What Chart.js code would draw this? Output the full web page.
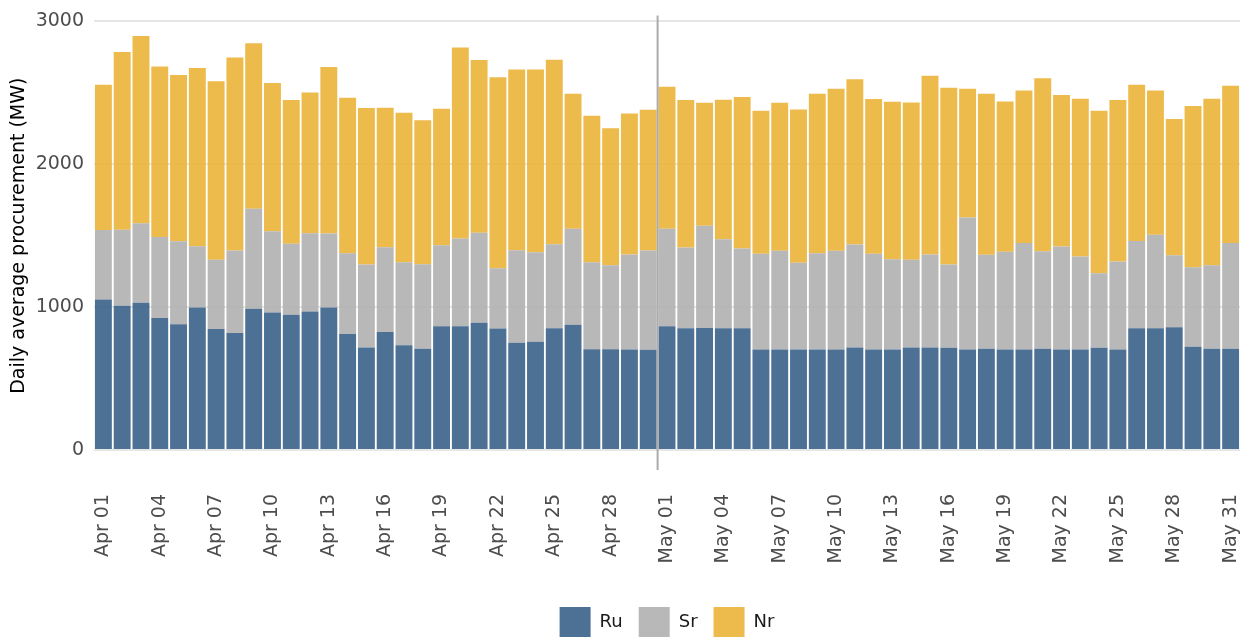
<!DOCTYPE html>
<html>
<head>
<meta charset="utf-8">
<script src="https://cdn.jsdelivr.net/npm/chart.js@4/dist/chart.umd.min.js"></script>
<style>
  html, body { margin: 0; padding: 0; background: #fff; }
  #wrap { width: 1256px; height: 637px; }
</style>
</head>
<body>
<div id="wrap"><canvas id="procChart"></canvas></div>
<script>
const days = [
  'Apr 01','Apr 02','Apr 03','Apr 04','Apr 05','Apr 06','Apr 07','Apr 08','Apr 09','Apr 10',
  'Apr 11','Apr 12','Apr 13','Apr 14','Apr 15','Apr 16','Apr 17','Apr 18','Apr 19','Apr 20',
  'Apr 21','Apr 22','Apr 23','Apr 24','Apr 25','Apr 26','Apr 27','Apr 28','Apr 29','Apr 30',
  'May 01','May 02','May 03','May 04','May 05','May 06','May 07','May 08','May 09','May 10',
  'May 11','May 12','May 13','May 14','May 15','May 16','May 17','May 18','May 19','May 20',
  'May 21','May 22','May 23','May 24','May 25','May 26','May 27','May 28','May 29','May 30',
  'May 31'
]

const ru = [
  1053, 1009, 1030, 924, 880, 998, 847, 819, 988, 963,
  947, 970, 998, 812, 718, 826, 734, 708, 866, 866,
  891, 850, 750, 757, 852, 877, 706, 706, 704, 701,
  866, 852, 854, 852, 852, 704, 704, 704, 704, 704,
  718, 704, 704, 718, 718, 715, 704, 708, 704, 704,
  708, 704, 704, 715, 704, 852, 852, 859, 722, 708,
  708
]

const sr = [
  487, 533, 558, 567, 581, 428, 484, 577, 700, 569,
  497, 548, 518, 565, 581, 593, 581, 593, 567, 615,
  630, 423, 648, 627, 588, 672, 609, 588, 664, 695,
  683, 565, 715, 623, 558, 669, 690, 606, 673, 690,
  720, 669, 632, 613, 650, 584, 923, 658, 683, 745,
  683, 720, 650, 523, 615, 611, 655, 504, 558, 586,
  741
]

const nr = [
  1016, 1243, 1310, 1194, 1164, 1248, 1250, 1352, 1159, 1037,
  1005, 984, 1165, 1088, 1094, 977, 1046, 1007, 956, 1336,
  1208, 1336, 1266, 1280, 1291, 944, 1025, 958, 988, 986,
  993, 1032, 862, 976, 1060, 1002, 1037, 1074, 1116, 1134,
  1157, 1083, 1102, 1102, 1252, 1236, 901, 1127, 1053, 1067,
  1211, 1060, 1104, 1137, 1130, 1093, 1009, 954, 1127, 1164,
  1100
]

const yTicks = [0, 1000, 2000, 3000]
const monthSplit = ['Apr 30', 'May 01']

const fontFamily = '"DejaVu Sans", sans-serif'
const legendPad = 16

// vertical line between the two months
const monthLine = {
  id: 'monthLine',
  afterDatasetsDraw(chart) {
    const x = chart.scales.x
    const a = x.getPixelForValue(days.indexOf(monthSplit[0]))
    const b = x.getPixelForValue(days.indexOf(monthSplit[1]))
    const px = (a + b) / 2
    const ctx = chart.ctx
    ctx.save()
    ctx.strokeStyle = '#ababab'
    ctx.lineWidth = 2
    ctx.beginPath()
    ctx.moveTo(px, chart.chartArea.top - 6)
    ctx.lineTo(px, chart.chartArea.bottom + 20)
    ctx.stroke()
    ctx.restore()
  }
}

// center the legend under the plot area instead of the canvas
const legendShift = {
  id: 'legendShift',
  afterLayout(chart) {
    const lg = chart.legend
    const area = chart.chartArea
    const shift = (area.left + area.right) / 2 - (lg.left + lg.right) / 2
    lg.left += shift
    lg.right += shift
  }
}

function makeSet(label, data, color) {
  return {
    label,
    data,
    backgroundColor: color,
    borderWidth: 0,
    barPercentage: 0.9,
    categoryPercentage: 1.0
  }
}

new Chart(document.getElementById('procChart'), {
  type: 'bar',
  data: {
    labels: days,
    datasets: [
      makeSet('Ru', ru, 'rgba(58, 96, 138, 0.9)'),
      makeSet('Sr', sr, 'rgba(176, 176, 176, 0.9)'),
      makeSet('Nr', nr, 'rgba(235, 179, 57, 0.9)')
    ]
  },
  options: {
    responsive: true,
    maintainAspectRatio: false,
    animation: false,
    layout: {
      padding: { top: 18, right: 16, left: 4, bottom: -11 }
    },
    plugins: {
      tooltip: { enabled: false },
      legend: {
        position: 'bottom',
        labels: {
          boxWidth: 31,
          boxHeight: 31,
          padding: legendPad,
          color: '#1a1a1a',
          font: { family: fontFamily, size: 18 }
        }
      }
    },
    scales: {
      x: {
        stacked: true,
        grid: { display: false },
        border: { display: false },
        ticks: {
          autoSkip: false,
          maxRotation: 90,
          minRotation: 90,
          padding: 36,
          color: '#4d4d4d',
          font: { family: fontFamily, size: 19 },
          callback: function (val, i) {
            return i % 3 === 0 ? days[i] : ''
          }
        },
        afterFit(scale) {
          scale.height = 157 - legendPad
          scale.paddingRight = 0
        }
      },
      y: {
        stacked: true,
        min: 0,
        max: 3000,
        afterBuildTicks(scale) { scale.ticks = yTicks.map(v => ({ value: v })) },
        grid: { color: '#e6e6e6', lineWidth: 2, drawTicks: false },
        border: { display: false },
        ticks: {
          padding: 10,
          color: '#4d4d4d',
          font: { family: fontFamily, size: 19 },
          callback: v => String(v)
        },
        title: {
          display: true,
          text: 'Daily average procurement (MW)',
          color: '#000',
          font: { family: fontFamily, size: 19 },
          padding: { top: 4, bottom: 4 }
        },
        afterFit(scale) { scale.width = 90 }
      }
    }
  },
  plugins: [monthLine, legendShift]
})
</script>
</body>
</html>
